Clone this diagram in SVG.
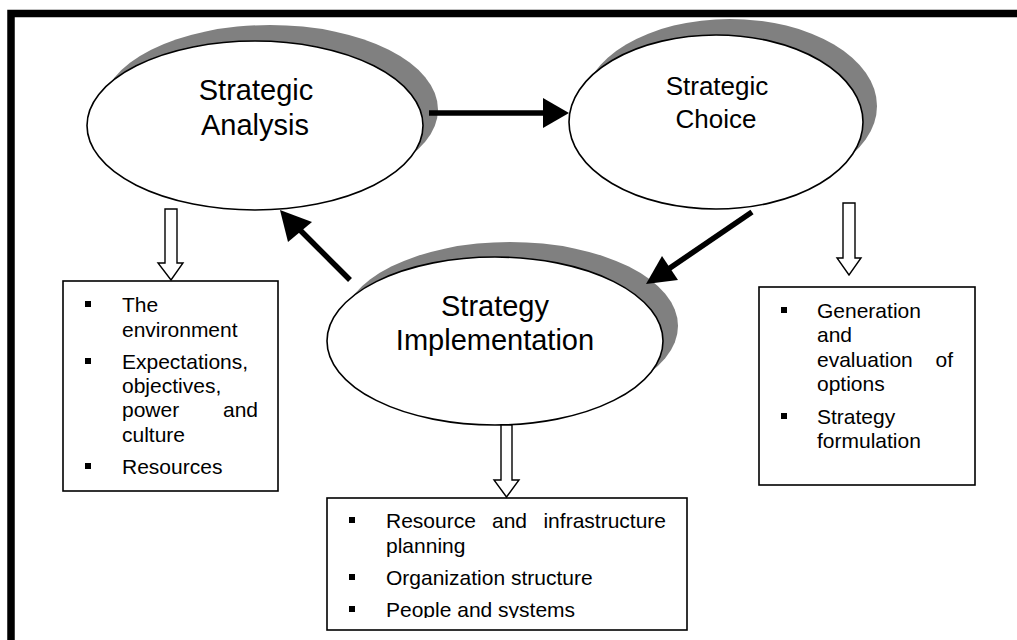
<svg xmlns="http://www.w3.org/2000/svg" width="1017" height="640" viewBox="0 0 1017 640">
<defs>
<style>
.frame{fill:none;stroke:#000;stroke-width:7.5}
.shadow{fill:#808080;stroke:none}
.oval{fill:#fff;stroke:#000;stroke-width:1.6}
.t{font-family:"Liberation Sans",Arial,sans-serif;fill:#000}
.big{font-size:29px;text-anchor:middle}
.small{font-size:21px}
.box{fill:#fff;stroke:#000;stroke-width:1.6}
.blk{fill:#fff;stroke:#000;stroke-width:1.4;stroke-linejoin:miter}
.ln{stroke:#000;stroke-width:5.5;fill:none}
.hd{fill:#000;stroke:none}
.bul{fill:#000}
</style>
<clipPath id="clipB"><rect x="327" y="498" width="360" height="120"/></clipPath>
</defs>
<rect width="1017" height="640" fill="#fff"/>
<path class="frame" d="M11,645 V13.5 H1025"/>

<g id="node-analysis">
<ellipse class="shadow" cx="270" cy="109.5" rx="168" ry="84.5"/>
<ellipse class="oval" cx="255" cy="125.5" rx="168" ry="84.5"/>
<text class="t big" x="256" y="100">Strategic</text>
<text class="t big" x="255" y="135">Analysis</text>
</g>

<g id="node-choice">
<ellipse class="shadow" cx="730" cy="106" rx="147" ry="87"/>
<ellipse class="oval" cx="716" cy="122" rx="147" ry="87"/>
<text class="t big" x="717" y="95" style="font-size:26px">Strategic</text>
<text class="t big" x="716" y="128" style="font-size:26px">Choice</text>
</g>

<g id="node-implementation">
<ellipse class="shadow" cx="510" cy="326" rx="168" ry="84"/>
<ellipse class="oval" cx="495" cy="341" rx="168" ry="84"/>
<text class="t big" x="495" y="316">Strategy</text>
<text class="t big" x="495" y="350">Implementation</text>
</g>

<g id="box-analysis">
<rect class="box" x="63" y="281" width="215" height="210"/>
<rect class="bul" x="85" y="301" width="6" height="6"/>
<text class="t small" x="122" y="312">The</text>
<text class="t small" x="122" y="337">environment</text>
<rect class="bul" x="85" y="358" width="6" height="6"/>
<text class="t small" x="122" y="369">Expectations,</text>
<text class="t small" x="122" y="393">objectives,</text>
<text class="t small" x="122" y="417">power</text>
<text class="t small" x="258" y="417" text-anchor="end">and</text>
<text class="t small" x="122" y="442">culture</text>
<rect class="bul" x="85" y="463" width="6" height="6"/>
<text class="t small" x="122" y="474">Resources</text>
</g>

<g id="box-choice">
<rect class="box" x="759" y="287" width="216" height="198"/>
<rect class="bul" x="781" y="307" width="6" height="6"/>
<text class="t small" x="817" y="318">Generation</text>
<text class="t small" x="817" y="342">and</text>
<text class="t small" x="817" y="367">evaluation</text>
<text class="t small" x="953" y="367" text-anchor="end">of</text>
<text class="t small" x="817" y="391">options</text>
<rect class="bul" x="781" y="413" width="6" height="6"/>
<text class="t small" x="817" y="424">Strategy</text>
<text class="t small" x="817" y="448">formulation</text>
</g>

<g id="box-implementation">
<rect class="box" x="327" y="498" width="360" height="132"/>
<g clip-path="url(#clipB)">
<rect class="bul" x="349" y="517" width="6" height="6"/>
<text class="t small" x="386" y="528">Resource</text>
<text class="t small" x="492" y="528">and</text>
<text class="t small" x="666" y="528" text-anchor="end">infrastructure</text>
<text class="t small" x="386" y="553">planning</text>
<rect class="bul" x="349" y="574" width="6" height="6"/>
<text class="t small" x="386" y="585">Organization structure</text>
<rect class="bul" x="349" y="606" width="6" height="6"/>
<text class="t small" x="386" y="617">People and systems</text>
</g>
</g>

<g id="connectors">
<path class="ln" d="M429,113 H546"/>
<polygon class="hd" points="543,98 569,113 543,128"/>
<path class="ln" d="M752,212 L667,270"/>
<polygon class="hd" points="662,256 646,284 678,280"/>
<path class="ln" d="M350,280 L298,228"/>
<polygon class="hd" points="288,242 280,210 312,222"/>
<polygon class="blk" points="165,209 177,209 177,263 183,263 171,280 158,263 165,263"/>
<polygon class="blk" points="843,203 855,203 855,258 861,258 849,275 837,258 843,258"/>
<polygon class="blk" points="501,425 512,425 512,480 519,480 506.5,497 494,480 501,480"/>
</g>
</svg>
